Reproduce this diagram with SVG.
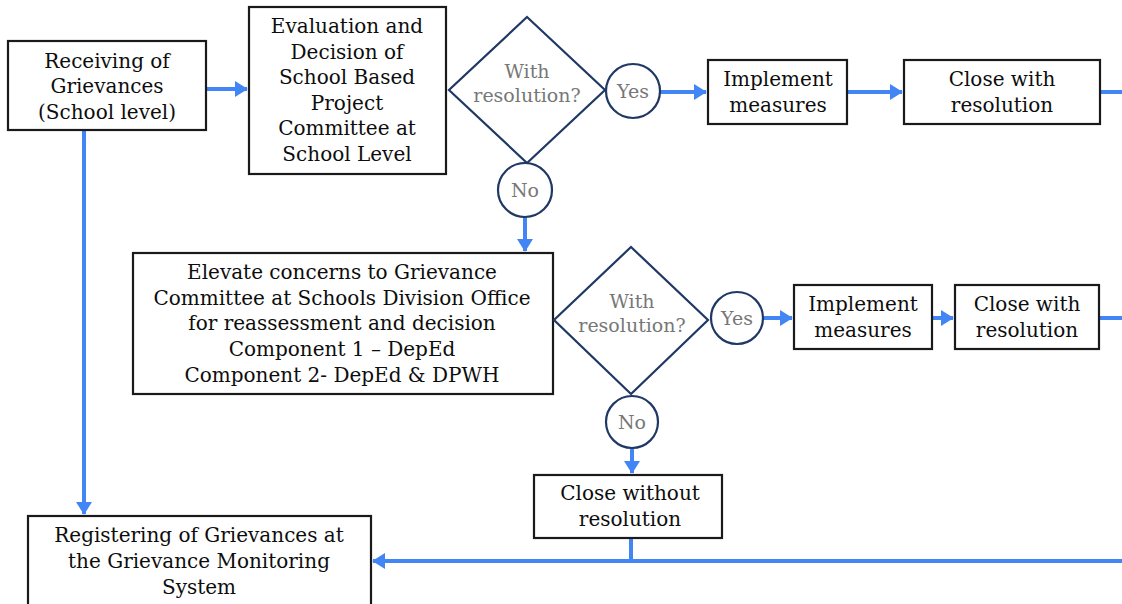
<svg xmlns="http://www.w3.org/2000/svg" width="1122" height="604" viewBox="0 0 1122 604">
<style>
.box{fill:#fff;stroke:#1a1a1a;stroke-width:2.2}
.dec{fill:#fff;stroke:#1f3864;stroke-width:2.2}
.t{font-family:"DejaVu Serif","Liberation Serif",serif;font-size:20px;fill:#0d0d0d;text-anchor:middle}
.g{font-family:"DejaVu Serif","Liberation Serif",serif;font-size:19px;fill:#777;text-anchor:middle}
.c{fill:none;stroke:#4285f4;stroke-width:4}
</style>
<defs>
<marker id="ah" markerWidth="4" markerHeight="4" refX="3" refY="2" orient="auto" markerUnits="strokeWidth">
<path d="M0,0 L3.2,2 L0,4 Z" fill="#4285f4"/>
</marker>
</defs>
<rect width="1122" height="604" fill="#fff"/>
<g id="connectors">
<line class="c" x1="206" y1="89" x2="247" y2="89" marker-end="url(#ah)"/>
<line class="c" x1="84" y1="130" x2="84" y2="514" marker-end="url(#ah)"/>
<line class="c" x1="660" y1="92" x2="706" y2="92" marker-end="url(#ah)"/>
<line class="c" x1="847" y1="92" x2="902" y2="92" marker-end="url(#ah)"/>
<line class="c" x1="1100" y1="92" x2="1122" y2="92"/>
<line class="c" x1="525" y1="217" x2="525" y2="251" marker-end="url(#ah)"/>
<line class="c" x1="763" y1="318" x2="792" y2="318" marker-end="url(#ah)"/>
<line class="c" x1="932" y1="318" x2="953" y2="318" marker-end="url(#ah)"/>
<line class="c" x1="1099" y1="318" x2="1122" y2="318"/>
<line class="c" x1="632" y1="449" x2="632" y2="473" marker-end="url(#ah)"/>
<line class="c" x1="631" y1="538" x2="631" y2="561"/>
<line class="c" x1="1122" y1="561" x2="373" y2="561" marker-end="url(#ah)"/>
</g>
<g id="receiving">
<rect class="box" x="8" y="41" width="198" height="89"/>
<text class="t" x="107" y="68">Receiving of</text>
<text class="t" x="107" y="93">Grievances</text>
<text class="t" x="107" y="119">(School level)</text>
</g>
<g id="evaluation">
<rect class="box" x="249" y="7" width="197" height="167"/>
<text class="t" x="347" y="33">Evaluation and</text>
<text class="t" x="347" y="59">Decision of</text>
<text class="t" x="347" y="84">School Based</text>
<text class="t" x="347" y="110">Project</text>
<text class="t" x="347" y="135">Committee at</text>
<text class="t" x="347" y="161">School Level</text>
</g>
<g id="decision1">
<polygon class="dec" points="527,17 605,90 527,163 449,90"/>
<text class="g" x="527" y="78">With</text>
<text class="g" x="527" y="102">resolution?</text>
</g>
<g id="yes1">
<circle class="dec" cx="633" cy="91" r="27"/>
<text class="g" x="633" y="98">Yes</text>
</g>
<g id="implement1">
<rect class="box" x="708" y="60" width="139" height="64"/>
<text class="t" x="778" y="86">Implement</text>
<text class="t" x="778" y="112">measures</text>
</g>
<g id="close1">
<rect class="box" x="904" y="60" width="196" height="64"/>
<text class="t" x="1002" y="86">Close with</text>
<text class="t" x="1002" y="112">resolution</text>
</g>
<g id="no1">
<circle class="dec" cx="525" cy="190" r="27"/>
<text class="g" x="525" y="197">No</text>
</g>
<g id="elevate">
<rect class="box" x="133" y="253" width="420" height="141"/>
<text class="t" x="342" y="279">Elevate concerns to Grievance</text>
<text class="t" x="342" y="305">Committee at Schools Division Office</text>
<text class="t" x="342" y="330">for reassessment and decision</text>
<text class="t" x="342" y="356">Component 1 – DepEd</text>
<text class="t" x="342" y="382">Component 2- DepEd &amp; DPWH</text>
</g>
<g id="decision2">
<polygon class="dec" points="631,247 708,320 631,394 554,320"/>
<text class="g" x="632" y="308">With</text>
<text class="g" x="632" y="332">resolution?</text>
</g>
<g id="yes2">
<circle class="dec" cx="737" cy="318" r="26"/>
<text class="g" x="737" y="325">Yes</text>
</g>
<g id="implement2">
<rect class="box" x="794" y="285" width="138" height="64"/>
<text class="t" x="863" y="311">Implement</text>
<text class="t" x="863" y="337">measures</text>
</g>
<g id="close2">
<rect class="box" x="955" y="285" width="144" height="64"/>
<text class="t" x="1027" y="311">Close with</text>
<text class="t" x="1027" y="337">resolution</text>
</g>
<g id="no2">
<circle class="dec" cx="632" cy="422" r="26"/>
<text class="g" x="632" y="429">No</text>
</g>
<g id="closewithout">
<rect class="box" x="534" y="475" width="188" height="63"/>
<text class="t" x="630" y="500">Close without</text>
<text class="t" x="630" y="526">resolution</text>
</g>
<g id="registering">
<rect class="box" x="28" y="516" width="343" height="100"/>
<text class="t" x="199" y="542">Registering of Grievances at</text>
<text class="t" x="199" y="568">the Grievance Monitoring</text>
<text class="t" x="199" y="594">System</text>
</g>
</svg>
